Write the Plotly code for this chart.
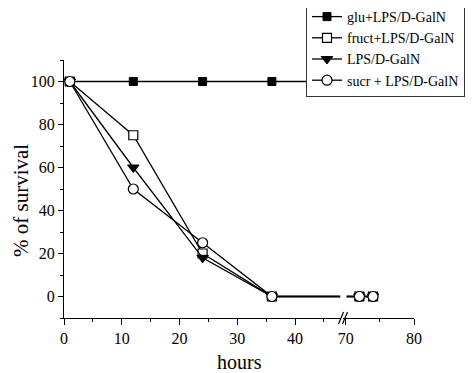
import plotly.graph_objects as go

hours = [1, 12, 24, 36, 72, 74]
glu = [100, 100, 100, 100, 100, 100]
fruct = [100, 75, 20, 0, 0, 0]
lps = [100, 60, 18, 0, 0, 0]
sucr = [100, 50, 25, 0, 0, 0]

names = ["glu+LPS/D-GalN", "fruct+LPS/D-GalN", "LPS/D-GalN", "sucr + LPS/D-GalN"]
series = [glu, fruct, lps, sucr]
symbols = ["square", "square-open", "triangle-down", "circle-open"]
sizes = [8, 9, 10, 10]

# page geometry (the page body adds an 8 px offset)
OFF = 8
PAGE_W, PAGE_H = 475, 373
W, H = PAGE_W - OFF, PAGE_H - OFF
PL, PR, PT, PB = 64, 414, 60, 318   # plot area in page pixels
PW, PH = PR - PL, PB - PT

def px(x):
    return (x - PL) / PW

def py(y):
    return (PB - y) / PH

FONT = "Liberation Serif"
TICKFONT = dict(family=FONT, size=16, color="black")
fig = go.Figure()
for name, vals, sym, sz in zip(names, series, symbols, sizes):
    mk = dict(symbol=sym, size=sz, color="black",
              line=dict(color="black", width=1))
    if sym.endswith("open"):
        mk = dict(symbol=sym.replace("-open", ""), size=sz, color="white",
                  line=dict(color="black", width=1.2))
    fig.add_trace(go.Scatter(x=hours, y=vals, name=name, mode="lines+markers",
                             line=dict(color="black", width=1.3), marker=mk,
                             xaxis="x", yaxis="y", cliponaxis=True))
    fig.add_trace(go.Scatter(x=hours, y=vals, name=name, mode="lines+markers",
                             line=dict(color="black", width=1.3), marker=mk,
                             xaxis="x2", yaxis="y", showlegend=False, cliponaxis=True))

split = px(341.2)
fig.update_layout(
    width=W, height=H,
    margin=dict(l=PL - OFF, r=PAGE_W - PR, t=PT - OFF, b=PAGE_H - PB, autoexpand=False),
    plot_bgcolor="white", paper_bgcolor="white",
    font=dict(family=FONT, size=16, color="black"),
    showlegend=True,
    legend=dict(x=px(306), y=py(0), xanchor="left", yanchor="top",
                bordercolor="#333", borderwidth=1, bgcolor="white",
                font=dict(family=FONT, size=14), tracegroupgap=0,
                itemwidth=30),
    xaxis=dict(domain=[0, split], range=[0, 48], showgrid=False, zeroline=False,
               showline=True, linecolor="black", linewidth=1.2,
               ticks="outside", ticklen=6, tickwidth=1.2, tickcolor="black",
               tickvals=[0, 10, 20, 30, 40], tickfont=TICKFONT,
               minor=dict(ticks="outside", ticklen=3, tickcolor="black", tickvals=[5, 15, 25, 35, 45]),
               anchor="y"),
    xaxis2=dict(domain=[px(343), 1], range=[69.6, 80], showgrid=False, zeroline=False,
                showline=True, linecolor="black", linewidth=1.2,
                ticks="outside", ticklen=6, tickwidth=1.2, tickcolor="black",
                tickvals=[70, 80], tickfont=TICKFONT,
                minor=dict(ticks="outside", ticklen=3, tickcolor="black", tickvals=[75]),
                anchor="y"),
    yaxis=dict(range=[-10, 110], showgrid=False, zeroline=False,
               showline=True, linecolor="black", linewidth=1.2,
               ticks="outside", ticklen=5, tickwidth=1.2, tickcolor="black",
               tickvals=[0, 20, 40, 60, 80, 100], tickfont=TICKFONT,
               minor=dict(ticks="outside", ticklen=3, tickcolor="black",
                          tickvals=[-10, 10, 30, 50, 70, 90, 110]),
               anchor="x"),
)

# gap in the data lines at the axis break
fig.add_shape(type="rect", xref="paper", yref="paper",
              x0=px(340.3), x1=px(346.5), y0=py(314), y1=py(62),
              fillcolor="white", line=dict(width=0), layer="above")
# break marks on the axis
for x0 in (338.5, 342.5):
    fig.add_shape(type="line", xref="paper", yref="paper",
                  x0=px(x0), y0=py(324), x1=px(x0 + 5), y1=py(312),
                  line=dict(color="black", width=1.2), layer="above")

fig.add_annotation(text="hours", xref="paper", yref="paper", x=0.5, y=py(362),
                   xanchor="center", yanchor="middle", showarrow=False,
                   font=dict(family=FONT, size=20))
fig.add_annotation(text="% of survival", xref="paper", yref="paper", x=px(21), y=py(201),
                   xanchor="center", yanchor="middle", showarrow=False, textangle=-90,
                   font=dict(family=FONT, size=21))

fig.write_html("out.html")
